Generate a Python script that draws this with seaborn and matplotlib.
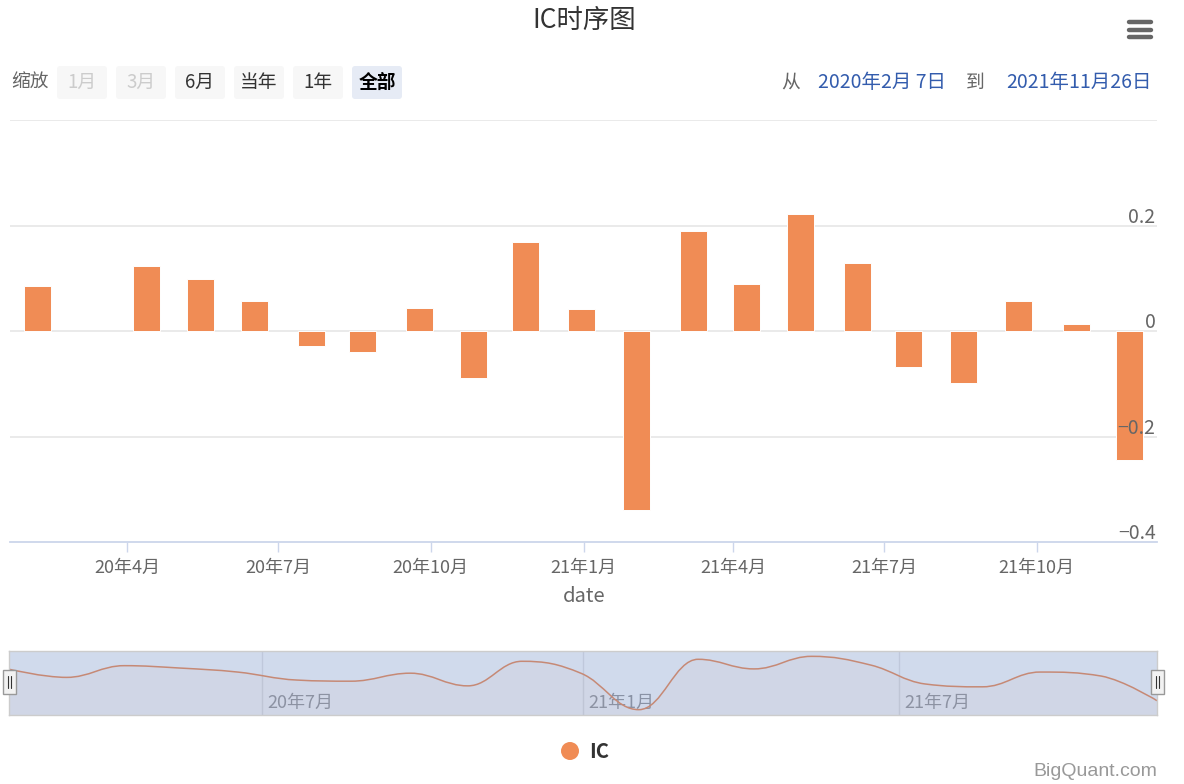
import numpy as np
import pandas as pd
import matplotlib
matplotlib.use("Agg")
import matplotlib.pyplot as plt
import matplotlib.dates as mdates
from matplotlib.path import Path
from matplotlib.patches import PathPatch, FancyBboxPatch, Rectangle, Circle
from matplotlib.lines import Line2D
import seaborn as sns

# ---------------- data ----------------
title = "IC时序图"
dates = ["2020-02-07", "2020-03-11", "2020-04-13", "2020-05-15", "2020-06-17",
         "2020-07-21", "2020-08-21", "2020-09-24", "2020-10-27", "2020-11-27",
         "2020-12-31", "2021-02-02", "2021-03-08", "2021-04-09", "2021-05-12",
         "2021-06-15", "2021-07-16", "2021-08-18", "2021-09-20", "2021-10-25",
         "2021-11-26"]
ic_values = [0.086, 0.0, 0.123, 0.098, 0.056,
             -0.028, -0.040, 0.044, -0.089, 0.169,
             0.042, -0.339, 0.190, 0.089, 0.221,
             0.129, -0.069, -0.099, 0.056, 0.014,
             -0.245]
x_tick_dates = ["2020-04-01", "2020-07-01", "2020-10-01", "2021-01-01",
                "2021-04-01", "2021-07-01", "2021-10-01"]
x_tick_labels = ["20年4月", "20年7月", "20年10月", "21年1月",
                 "21年4月", "21年7月", "21年10月"]
y_ticks = [-0.4, -0.2, 0.0, 0.2, 0.4]
y_tick_labels = ["−0.4", "−0.2", "0", "0.2", ""]
nav_tick_dates = ["2020-07-01", "2021-01-01", "2021-07-01"]
nav_tick_labels = ["20年7月", "21年1月", "21年7月"]
range_buttons = ["1月", "3月", "6月", "当年", "1年", "全部"]
range_from = "2020年2月 7日"
range_to = "2021年11月26日"
series_name = "IC"
credits = "BigQuant.com"

# ---------------- style ----------------
sns.set_theme(style="white")
FAM = ["Noto Sans CJK SC", "DejaVu Sans"]
plt.rcParams["font.family"] = FAM
plt.rcParams["axes.unicode_minus"] = False

W, H = 1184, 784
BAR = "#f08c55"
fig = plt.figure(figsize=(W / 100, H / 100), dpi=100)
fig.patch.set_facecolor("white")

# overlay axes in pixel coordinates (for widgets)
ov = fig.add_axes([0, 0, 1, 1])
ov.set_xlim(0, W)
ov.set_ylim(H, 0)
ov.axis("off")

# title
ov.text(584, 20, title, ha="center", va="center", fontsize=19, color="#333333")

# hamburger menu
for yy in (22, 29.5, 37):
    ov.add_line(Line2D([1129, 1151], [yy, yy], color="#666666", lw=3.2,
                       solid_capstyle="round"))

# range selector
ov.text(30, 82, "缩放", ha="center", va="center", fontsize=13.5, color="#666666")
btn_x = [57, 116, 175, 234, 293, 352]
for i, (bx, lab) in enumerate(zip(btn_x, range_buttons)):
    if i < 2:
        fc, tc, fw = "#f7f7f7", "#cccccc", "normal"
    elif lab == "全部":
        fc, tc, fw = "#e6ebf5", "#000000", "bold"
    else:
        fc, tc, fw = "#f7f7f7", "#333333", "normal"
    ov.add_patch(FancyBboxPatch((bx, 66), 50, 33,
                                boxstyle="round,pad=0,rounding_size=3",
                                fc=fc, ec="none"))
    ov.text(bx + 25, 82.5, lab, ha="center", va="center", fontsize=13.5,
            color=tc, fontweight=fw)

ov.text(791, 82, "从", ha="center", va="center", fontsize=13.5, color="#666666")
ov.text(882, 82, range_from, ha="center", va="center", fontsize=14, color="#335cad")
ov.text(975, 82, "到", ha="center", va="center", fontsize=13.5, color="#666666")
ov.text(1152, 82, range_to, ha="right", va="center", fontsize=14, color="#335cad")

# ---------------- main chart ----------------
xd = pd.to_datetime(dates)
xnum = mdates.date2num(xd)

ax = fig.add_axes([10 / W, 1 - 542 / H, 1147 / W, 422 / H])
ax.set_facecolor("none")
sns.barplot(x=xnum, y=ic_values, native_scale=True, width=0.525,
            color=BAR, saturation=1, edgecolor="white", linewidth=0.7,
            errorbar=None, ax=ax, zorder=3)
for p in ax.patches:
    if abs(p.get_height()) < 1e-9:
        p.set_linewidth(0)
ax.set_xlim(xnum[0] - 16.5, xnum[-1] + 16.5)
ax.set_ylim(-0.4, 0.4)
for yv in y_ticks[1:]:
    ax.axhline(yv, color="#e6e6e6", lw=1.2, zorder=1)
for s in ("top", "left", "right"):
    ax.spines[s].set_visible(False)
ax.spines["bottom"].set_color("#ccd6eb")
ax.spines["bottom"].set_linewidth(1.3)
ax.set_yticks([])
ax.set_ylabel("")
ax.set_xticks(mdates.date2num(pd.to_datetime(x_tick_dates)))
ax.set_xticklabels(x_tick_labels)
ax.tick_params(axis="x", length=7, width=1, color="#ccd6eb", direction="out",
               labelcolor="#666666", labelsize=13, pad=5, bottom=True)
ax.set_xlabel("")
for yv, lab in zip(y_ticks, y_tick_labels):
    if lab:
        ax.annotate(lab, xy=(1.0, yv), xycoords=("axes fraction", "data"),
                    xytext=(-1, -1.5), textcoords="offset points",
                    ha="right", va="bottom", fontsize=14, color="#666666")
ov.text(584, 596, "date", ha="center", va="center", fontsize=14.5, color="#666666")

# ---------------- navigator ----------------
def spline_path(xs, ys, smoothing=1.5):
    denom = smoothing + 1
    n = len(xs)
    lefts, rights = [None] * n, [None] * n
    for i in range(n):
        if 0 < i < n - 1:
            lx = (smoothing * xs[i] + xs[i - 1]) / denom
            ly = (smoothing * ys[i] + ys[i - 1]) / denom
            rx = (smoothing * xs[i] + xs[i + 1]) / denom
            ry = (smoothing * ys[i] + ys[i + 1]) / denom
            if rx != lx:
                corr = ((ry - ly) * (rx - xs[i])) / (rx - lx) + ys[i] - ry
                ly += corr
                ry += corr
            if ly > ys[i - 1] and ly > ys[i]:
                ly = max(ys[i - 1], ys[i]); ry = 2 * ys[i] - ly
            elif ly < ys[i - 1] and ly < ys[i]:
                ly = min(ys[i - 1], ys[i]); ry = 2 * ys[i] - ly
            if ry > ys[i + 1] and ry > ys[i]:
                ry = max(ys[i + 1], ys[i]); ly = 2 * ys[i] - ry
            elif ry < ys[i + 1] and ry < ys[i]:
                ry = min(ys[i + 1], ys[i]); ly = 2 * ys[i] - ry
            lefts[i], rights[i] = (lx, ly), (rx, ry)
        else:
            lefts[i] = rights[i] = (xs[i], ys[i])
    verts = [(xs[0], ys[0])]
    codes = [Path.MOVETO]
    for i in range(1, n):
        verts += [rights[i - 1], lefts[i], (xs[i], ys[i])]
        codes += [Path.CURVE4] * 3
    return verts, codes

vmin, vmax = min(ic_values), max(ic_values)
pad = 0.1 * (vmax - vmin)
nav = fig.add_axes([9 / W, 1 - 715 / H, 1148 / W, 64 / H])
nav.set_xlim(xnum[0], xnum[-1])
nav.set_ylim(vmin - pad, vmax + pad)
nav.set_facecolor("white")
nav.set_xticks([]); nav.set_yticks([])
for s in nav.spines.values():
    s.set_color("#cccccc"); s.set_linewidth(1); s.set_zorder(20)
nt = mdates.date2num(pd.to_datetime(nav_tick_dates))
for t, lab in zip(nt, nav_tick_labels):
    nav.axvline(t, color="#e6e6e6", lw=1, zorder=1)
    nav.annotate(lab, xy=(t, 0), xycoords=("data", "axes fraction"),
                 xytext=(4, 2), textcoords="offset points", ha="left",
                 va="bottom", fontsize=13, color="#999999", zorder=2)
verts, codes = spline_path(list(xnum), list(ic_values))
ybot = vmin - pad
area_verts = verts + [(xnum[-1], ybot), (xnum[0], ybot), (xnum[0], ybot)]
area_codes = codes + [Path.LINETO, Path.LINETO, Path.CLOSEPOLY]
nav.add_patch(PathPatch(Path(area_verts, area_codes), fc=BAR, alpha=0.05,
                        ec="none", zorder=3))
nav.add_patch(PathPatch(Path(verts, codes), fc="none", ec=BAR, lw=1.1, zorder=4))
nav.add_patch(Rectangle((0, 0), 1, 1, transform=nav.transAxes,
                        fc=(102 / 255, 133 / 255, 194 / 255), alpha=0.3,
                        ec="none", zorder=10))

# top overlay for navigator handles, legend and credits
top = fig.add_axes([0, 0, 1, 1], zorder=50)
top.set_xlim(0, W)
top.set_ylim(H, 0)
top.axis("off")
for hx in (9, 1157):
    top.add_patch(Rectangle((hx - 6.5, 670), 13, 24, fc="#f2f2f2", ec="#999999",
                            lw=1))
    for dx in (-1.5, 1.5):
        top.add_line(Line2D([hx + dx, hx + dx], [676, 688], color="#333333",
                            lw=0.8))

# legend
top.add_patch(Circle((570, 751), 9, fc=BAR, ec="none"))
top.text(589, 751, series_name, ha="left", va="center", fontsize=14.5,
         color="#333333", fontweight="bold")

# credits
top.text(1157, 771, credits, ha="right", va="center", fontsize=14,
         color="#999999", family=["Liberation Sans", "DejaVu Sans"])

fig.savefig("out.png", dpi=100, facecolor="white")
